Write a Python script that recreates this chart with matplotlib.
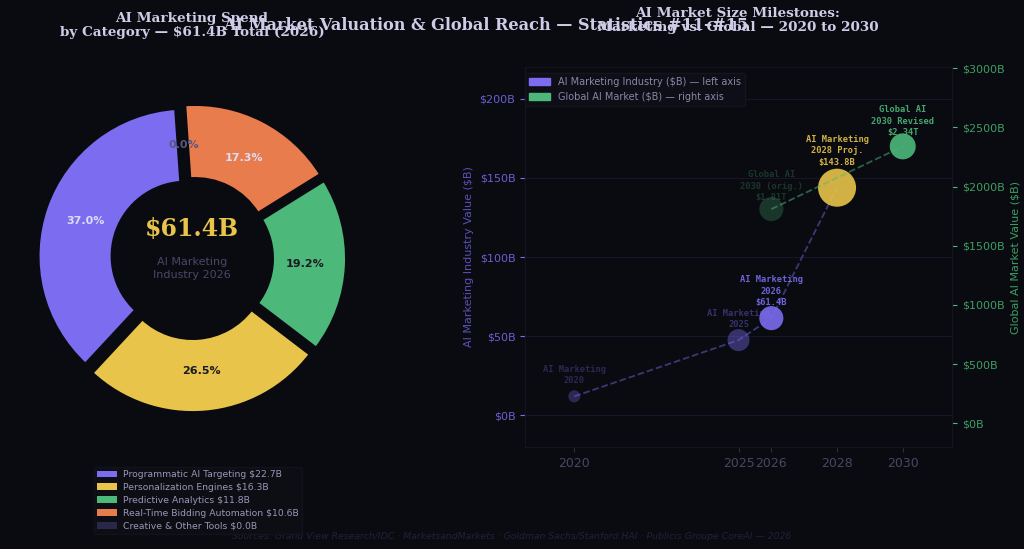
import numpy as np
import matplotlib
matplotlib.use("Agg")
import matplotlib.pyplot as plt

# ---- data ----
categories = ["Programmatic AI Targeting", "Personalization Engines",
              "Predictive Analytics", "Real-Time Bidding Automation",
              "Creative & Other Tools"]
spend_b = [22.7, 16.3, 11.8, 10.6, 0.0]

mkt_years = [2020, 2025, 2026, 2028]
mkt_values = [12.0, 47.5, 61.4, 143.8]
mkt_labels = ["AI Marketing\n2020", "AI Marketing\n2025",
              "AI Marketing\n2026\n$61.4B", "AI Marketing\n2028 Proj.\n$143.8B"]

glob_years = [2026, 2030]
glob_values = [1810, 2340]
glob_labels = ["Global AI\n2030 (orig.)\n$1.81T", "Global AI\n2030 Revised\n$2.34T"]

year_ticks = [2020, 2025, 2026, 2028, 2030]

# ---- style ----
BG = "#0a0b10"
PURPLE = "#7b6cf0"
YELLOW = "#e8c44a"
GREEN = "#4cb87a"
ORANGE = "#e87c4c"
NAVY = "#2a2848"
TITLE = "#d0cce8"

pie_colors = [PURPLE, YELLOW, GREEN, ORANGE, NAVY]
pct_colors = ["#e0dcf5", "#1a1a22", "#1a1a22", "#e0dcf5", "#5a5680"]

fig = plt.figure(figsize=(10.24, 5.49), dpi=100, facecolor=BG)

# ---- donut ----
axp = fig.add_axes([0.0166, 0.211, 0.342, 0.6375])
axp.set_facecolor(BG)
wedges, texts, autotexts = axp.pie(
    spend_b, colors=pie_colors, startangle=94, counterclock=True,
    explode=[0.045] * len(spend_b), autopct="%1.1f%%", pctdistance=0.72,
    wedgeprops=dict(width=0.5, edgecolor=BG, linewidth=2),
    textprops=dict(fontsize=8, fontweight="bold"))
for t, c in zip(autotexts, pct_colors):
    t.set_color(c)
axp.set_xlim(-1.185, 1.185)
axp.set_ylim(-1.185, 1.185)
axp.set_aspect("equal")
axp.text(0, 0.2, "$%.1fB" % sum(spend_b), ha="center", va="center",
         fontsize=17, fontweight="bold", family="DejaVu Serif", color=YELLOW)
axp.text(0, -0.07, "AI Marketing\nIndustry 2026", ha="center", va="center",
         fontsize=8, color="#4a4668", linespacing=1.4)

fig.text(0.1875, 0.954, "AI Marketing Spend\nby Category — $61.4B Total (2026)",
         ha="center", va="center", fontsize=9.7, fontweight="bold",
         family="DejaVu Serif", color=TITLE, linespacing=1.08)

leg_labels = ["%s $%.1fB" % (c, v) for c, v in zip(categories, spend_b)]
proxies = [plt.Rectangle((0, 0), 1, 1, facecolor=c, edgecolor="none") for c in pie_colors]
fig.legend(proxies, leg_labels, loc="upper left", bbox_to_anchor=(0.087, 0.158),
           bbox_transform=fig.transFigure, fontsize=6.7, frameon=True,
           facecolor="#0e0e16", edgecolor="#15141f", labelcolor="#9a96b8",
           handlelength=2.15, handleheight=0.75, handletextpad=0.65,
           labelspacing=0.42, borderpad=0.35)

# ---- milestones ----
ax = fig.add_axes([0.5127, 0.1858, 0.417, 0.692])
ax.set_facecolor(BG)
ax2 = ax.twinx()

mkt_sizes = [75, 250, 300, 750]
mkt_cols = [PURPLE, PURPLE, PURPLE, YELLOW]
mkt_alpha = [0.3, 0.4, 0.9, 0.9]
mkt_offsets = [8, 8, 8, 15]
ax.plot(mkt_years, mkt_values, ls="--", color=PURPLE, alpha=0.45, lw=1.3, zorder=2)
for x, y, s, c, a, off, lab in zip(mkt_years, mkt_values, mkt_sizes, mkt_cols,
                                   mkt_alpha, mkt_offsets, mkt_labels):
    ax.annotate(lab, (x, y), xytext=(0, off), textcoords="offset points",
                ha="center", va="bottom", fontsize=6.3, fontweight="bold",
                family="DejaVu Sans Mono", color=c, alpha=a, zorder=3,
                linespacing=1.35)
    ax.scatter([x], [y], s=s, color=c, alpha=a, edgecolors="none", zorder=4)

glob_sizes = [300, 350]
glob_alpha = [0.25, 0.9]
glob_offsets = [5, 6.5]
ax2.plot(glob_years, glob_values, ls="--", color=GREEN, alpha=0.5, lw=1.3, zorder=2)
for x, y, s, a, off, lab in zip(glob_years, glob_values, glob_sizes, glob_alpha,
                                glob_offsets, glob_labels):
    ax2.annotate(lab, (x, y), xytext=(0, off), textcoords="offset points",
                 ha="center", va="bottom", fontsize=6.3, fontweight="bold",
                 family="DejaVu Sans Mono", color=GREEN, alpha=a, zorder=3,
                 linespacing=1.35)
    ax2.scatter([x], [y], s=s, color=GREEN, alpha=a, edgecolors="none", zorder=4)

ax.set_xlim(2018.5, 2031.5)
ax.set_ylim(-20, 220)
ax2.set_ylim(-200, 3010)
ax.set_xticks(year_ticks)
ax.set_yticks([0, 50, 100, 150, 200])
ax.set_yticklabels(["$%dB" % v for v in [0, 50, 100, 150, 200]])
ax2.set_yticks([0, 500, 1000, 1500, 2000, 2500, 3000])
ax2.set_yticklabels(["$%dB" % v for v in [0, 500, 1000, 1500, 2000, 2500, 3000]])

ax.tick_params(axis="x", colors="#2e2b45", labelcolor="#4a4563", labelsize=9)
ax.tick_params(axis="y", colors=PURPLE, labelcolor="#6a5fd0", labelsize=8)
ax2.tick_params(axis="y", colors=GREEN, labelcolor="#3d9e64", labelsize=8)
ax.grid(axis="y", color="#16152a", lw=0.8)
for a_ in (ax, ax2):
    for sp in a_.spines.values():
        sp.set_color("#151422")

ax.set_ylabel("AI Marketing Industry Value ($B)", color="#5a50b8", fontsize=8)
ax2.set_ylabel("Global AI Market Value ($B)", color="#3d9e64", fontsize=8)

handles = [plt.Rectangle((0, 0), 1, 1, color=PURPLE), plt.Rectangle((0, 0), 1, 1, color=GREEN)]
ax.legend(handles, ["AI Marketing Industry ($B) — left axis", "Global AI Market ($B) — right axis"],
          loc="upper left", bbox_to_anchor=(0.0, 0.985), borderaxespad=0,
          fontsize=7, facecolor="#0e0e16", edgecolor="#15141f",
          labelcolor="#8a86a8", framealpha=1, handlelength=2.2, borderpad=0.4,
          labelspacing=0.55)

fig.text(0.7207, 0.962, "AI Market Size Milestones:\nMarketing vs. Global — 2020 to 2030",
         ha="center", va="center", fontsize=9.7, fontweight="bold",
         family="DejaVu Serif", color=TITLE, linespacing=1.08)

fig.suptitle("AI Market Valuation & Global Reach — Statistics #11–#15", x=0.474, y=0.954,
             va="center", fontsize=11.6, fontweight="bold", family="DejaVu Serif", color=TITLE)

fig.text(0.5, 0.022, "Sources: Grand View Research/IDC · MarketsandMarkets · Goldman Sachs/Stanford HAI · "
         "Publicis Groupe CoreAI — 2026", ha="center", va="center", fontsize=6.7,
         style="italic", color="#22203a")

fig.savefig("out.png", dpi=100, facecolor=BG)
